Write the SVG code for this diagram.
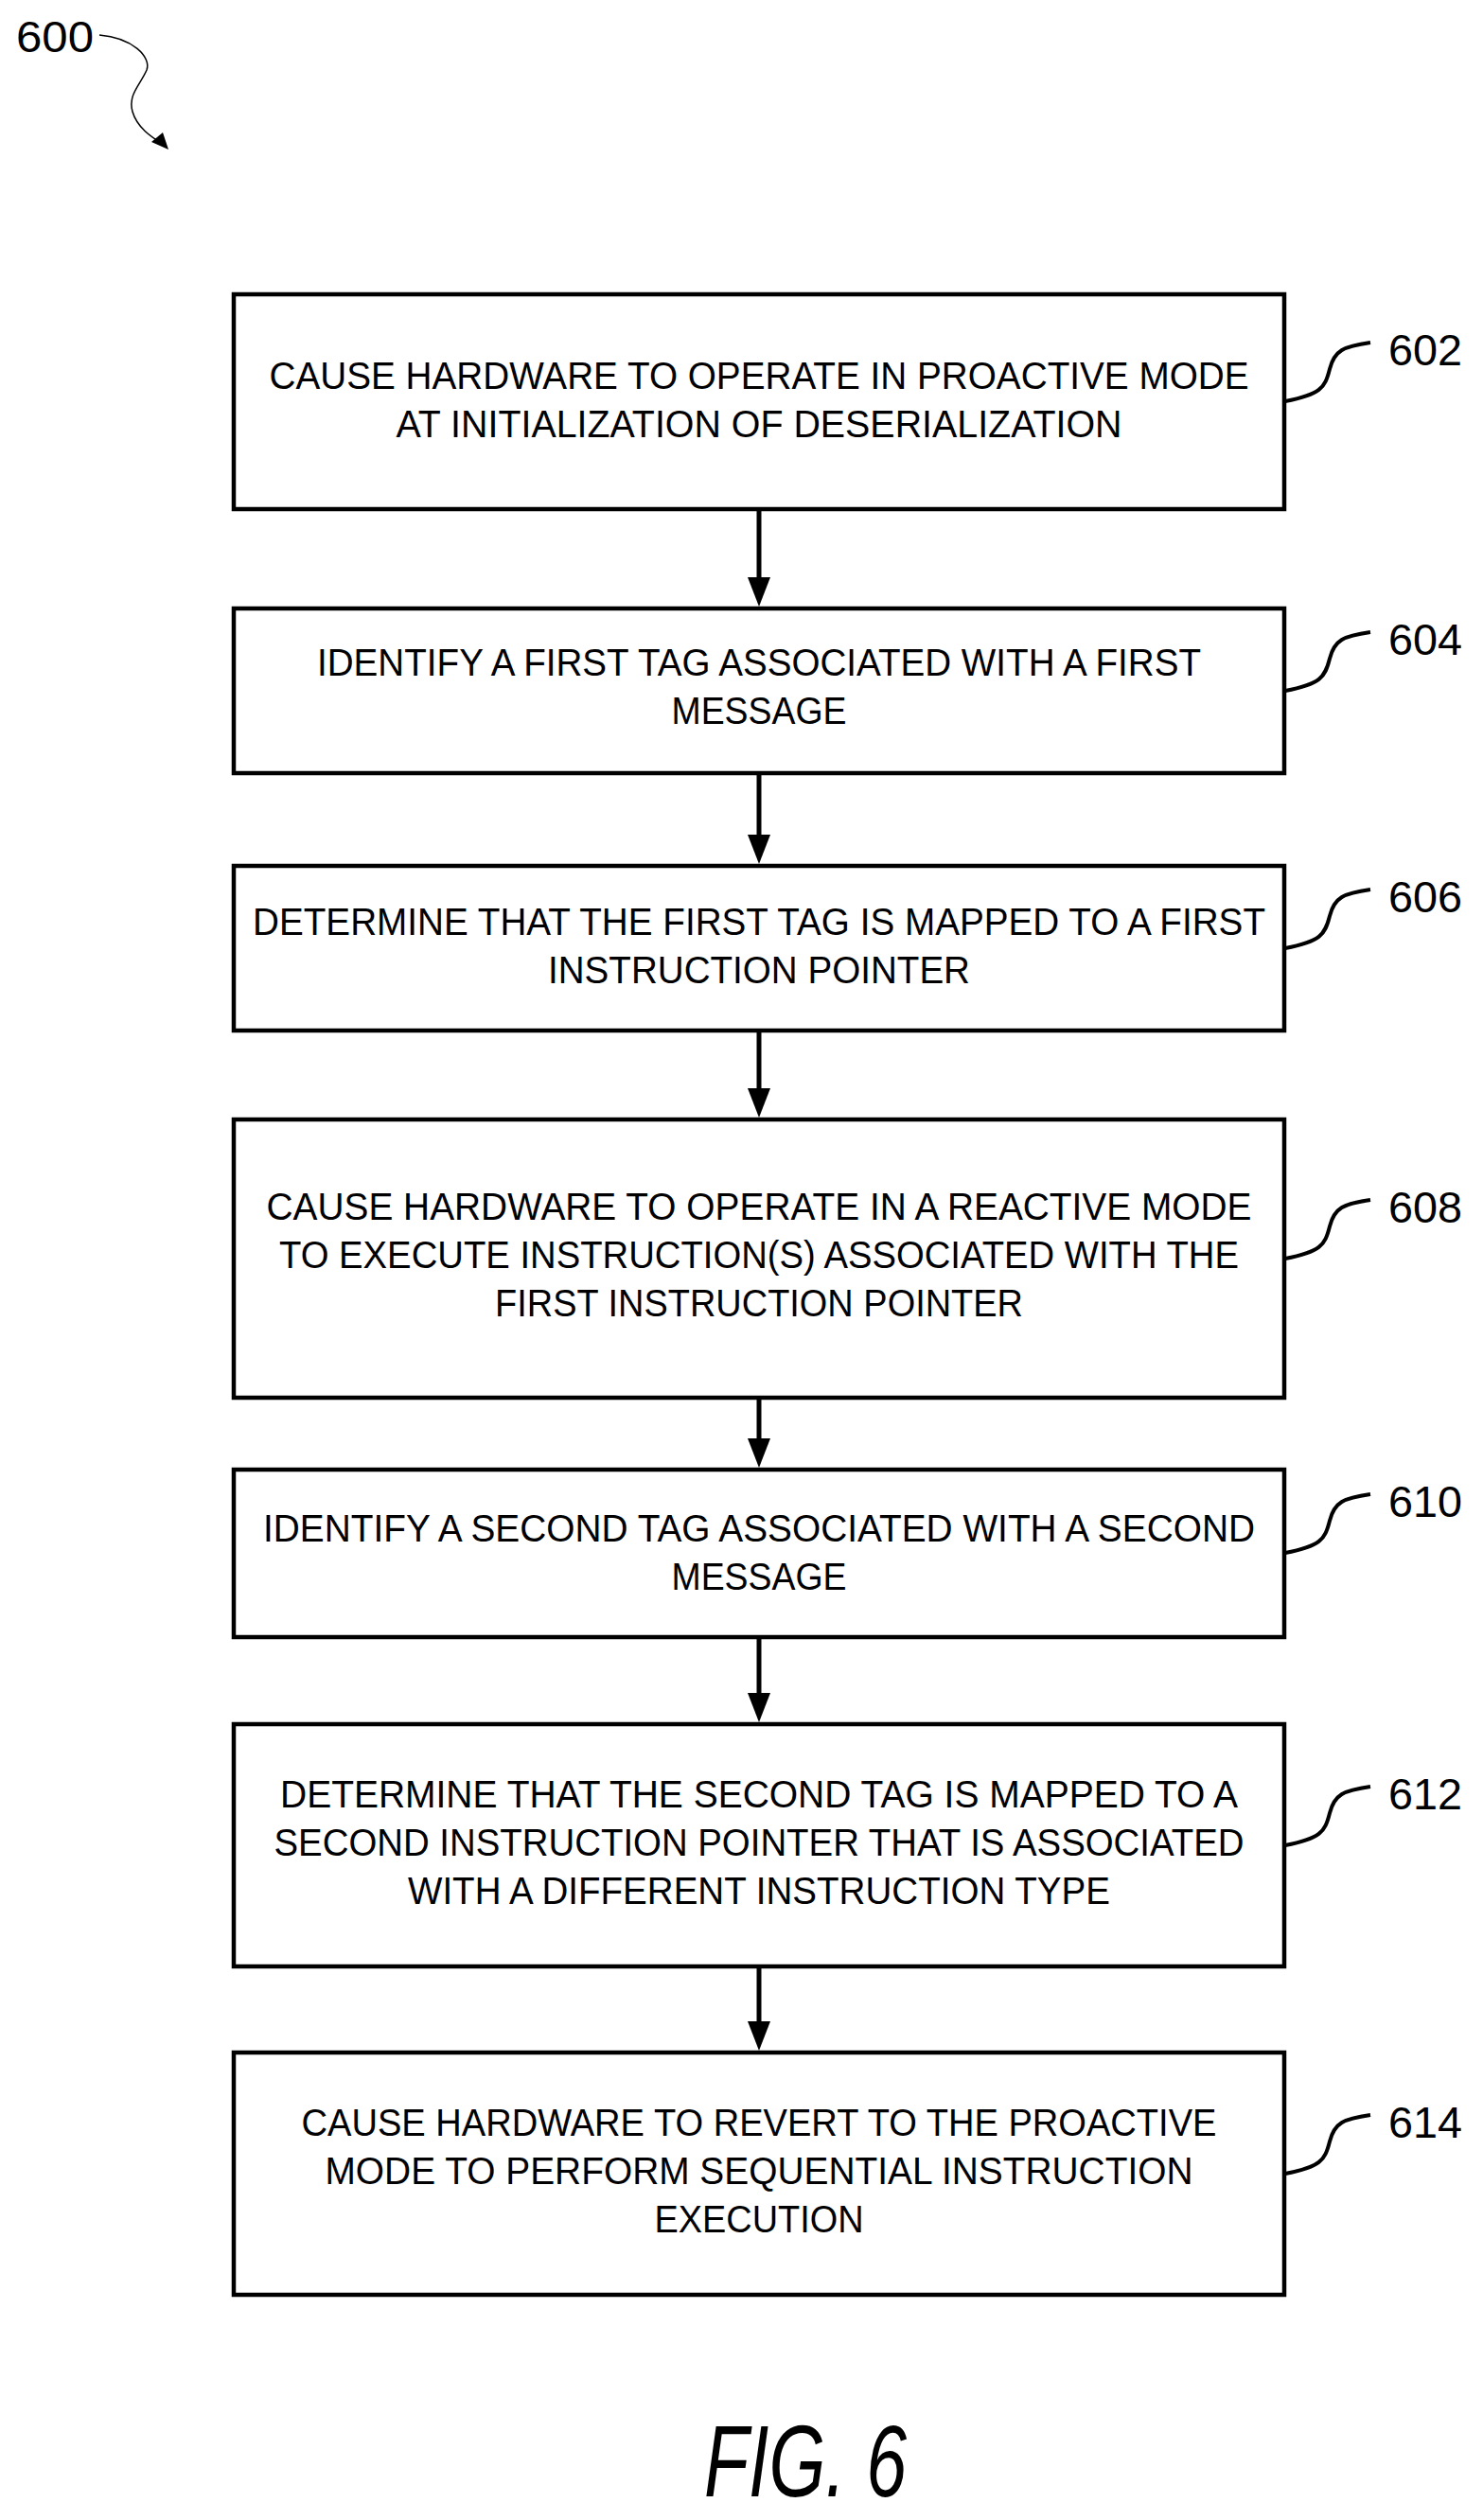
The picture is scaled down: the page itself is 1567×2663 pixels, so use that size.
<svg xmlns="http://www.w3.org/2000/svg" width="1567" height="2663" viewBox="0 0 1567 2663">
<style>
.box{fill:#fff;stroke:#000;stroke-width:4.5}
.t{font-family:"Liberation Sans",Arial,sans-serif;font-size:40px;fill:#000;text-anchor:middle}
.lb{font-family:"Liberation Sans",Arial,sans-serif;font-size:46px;fill:#000}
.ld{fill:none;stroke:#000;stroke-width:4}
.c{stroke:#000;stroke-width:5;fill:none}
.ah{fill:#000}
</style>
<rect width="1567" height="2663" fill="#fff"/>
<g id="ref600">
<text class="lb" x="17" y="55" textLength="82" lengthAdjust="spacingAndGlyphs">600</text>
<path d="M105,37 C140,40 160,60 155,74 C148,90 135,100 140,118 C145,135 160,145 172,152" fill="none" stroke="#000" stroke-width="1.5"/>
<path d="M178,158 L160,150 L172,140 Z" fill="#000"/>
</g>
<g id="connectors">
<line class="c" x1="802" y1="540" x2="802" y2="612"/><path class="ah" d="M790,610 L814,610 L802,641 Z"/>
<line class="c" x1="802" y1="819" x2="802" y2="884"/><path class="ah" d="M790,882 L814,882 L802,913 Z"/>
<line class="c" x1="802" y1="1091" x2="802" y2="1152"/><path class="ah" d="M790,1150 L814,1150 L802,1181 Z"/>
<line class="c" x1="802" y1="1479" x2="802" y2="1522"/><path class="ah" d="M790,1520 L814,1520 L802,1551 Z"/>
<line class="c" x1="802" y1="1732" x2="802" y2="1791"/><path class="ah" d="M790,1789 L814,1789 L802,1820 Z"/>
<line class="c" x1="802" y1="2080" x2="802" y2="2138"/><path class="ah" d="M790,2136 L814,2136 L802,2167 Z"/>
</g>
<g id="n602">
<rect class="box" x="247" y="311" width="1110" height="227"/>
<text class="t" x="802" y="411" textLength="1035" lengthAdjust="spacingAndGlyphs">CAUSE HARDWARE TO OPERATE IN PROACTIVE MODE</text>
<text class="t" x="802" y="462" textLength="767" lengthAdjust="spacingAndGlyphs">AT INITIALIZATION OF DESERIALIZATION</text>
<path class="ld" d="M1358,424 C1395,417 1400,410 1405,390 C1410,370 1420,366 1448,362"/>
<text class="lb" x="1467" y="386" textLength="78" lengthAdjust="spacingAndGlyphs">602</text>
</g>
<g id="n604">
<rect class="box" x="247" y="643" width="1110" height="174"/>
<text class="t" x="802" y="714" textLength="934" lengthAdjust="spacingAndGlyphs">IDENTIFY A FIRST TAG ASSOCIATED WITH A FIRST</text>
<text class="t" x="802" y="765" textLength="185" lengthAdjust="spacingAndGlyphs">MESSAGE</text>
<path class="ld" d="M1358,730 C1395,723 1400,716 1405,696 C1410,676 1420,672 1448,668"/>
<text class="lb" x="1467" y="692" textLength="78" lengthAdjust="spacingAndGlyphs">604</text>
</g>
<g id="n606">
<rect class="box" x="247" y="915" width="1110" height="174"/>
<text class="t" x="802" y="988" textLength="1070" lengthAdjust="spacingAndGlyphs">DETERMINE THAT THE FIRST TAG IS MAPPED TO A FIRST</text>
<text class="t" x="802" y="1039" textLength="446" lengthAdjust="spacingAndGlyphs">INSTRUCTION POINTER</text>
<path class="ld" d="M1358,1002 C1395,995 1400,988 1405,968 C1410,948 1420,944 1448,940"/>
<text class="lb" x="1467" y="964" textLength="78" lengthAdjust="spacingAndGlyphs">606</text>
</g>
<g id="n608">
<rect class="box" x="247" y="1183" width="1110" height="294"/>
<text class="t" x="802" y="1289" textLength="1041" lengthAdjust="spacingAndGlyphs">CAUSE HARDWARE TO OPERATE IN A REACTIVE MODE</text>
<text class="t" x="802" y="1340" textLength="1014" lengthAdjust="spacingAndGlyphs">TO EXECUTE INSTRUCTION(S) ASSOCIATED WITH THE</text>
<text class="t" x="802" y="1391" textLength="558" lengthAdjust="spacingAndGlyphs">FIRST INSTRUCTION POINTER</text>
<path class="ld" d="M1358,1330 C1395,1323 1400,1316 1405,1296 C1410,1276 1420,1272 1448,1268"/>
<text class="lb" x="1467" y="1292" textLength="78" lengthAdjust="spacingAndGlyphs">608</text>
</g>
<g id="n610">
<rect class="box" x="247" y="1553" width="1110" height="177"/>
<text class="t" x="802" y="1629" textLength="1048" lengthAdjust="spacingAndGlyphs">IDENTIFY A SECOND TAG ASSOCIATED WITH A SECOND</text>
<text class="t" x="802" y="1680" textLength="185" lengthAdjust="spacingAndGlyphs">MESSAGE</text>
<path class="ld" d="M1358,1641 C1395,1634 1400,1627 1405,1607 C1410,1587 1420,1583 1448,1579"/>
<text class="lb" x="1467" y="1603" textLength="78" lengthAdjust="spacingAndGlyphs">610</text>
</g>
<g id="n612">
<rect class="box" x="247" y="1822" width="1110" height="256"/>
<text class="t" x="802" y="1910" textLength="1012" lengthAdjust="spacingAndGlyphs">DETERMINE THAT THE SECOND TAG IS MAPPED TO A</text>
<text class="t" x="802" y="1961" textLength="1025" lengthAdjust="spacingAndGlyphs">SECOND INSTRUCTION POINTER THAT IS ASSOCIATED</text>
<text class="t" x="802" y="2012" textLength="742" lengthAdjust="spacingAndGlyphs">WITH A DIFFERENT INSTRUCTION TYPE</text>
<path class="ld" d="M1358,1950 C1395,1943 1400,1936 1405,1916 C1410,1896 1420,1892 1448,1888"/>
<text class="lb" x="1467" y="1912" textLength="78" lengthAdjust="spacingAndGlyphs">612</text>
</g>
<g id="n614">
<rect class="box" x="247" y="2169" width="1110" height="256"/>
<text class="t" x="802" y="2257" textLength="967" lengthAdjust="spacingAndGlyphs">CAUSE HARDWARE TO REVERT TO THE PROACTIVE</text>
<text class="t" x="802" y="2308" textLength="917" lengthAdjust="spacingAndGlyphs">MODE TO PERFORM SEQUENTIAL INSTRUCTION</text>
<text class="t" x="802" y="2359" textLength="221" lengthAdjust="spacingAndGlyphs">EXECUTION</text>
<path class="ld" d="M1358,2297 C1395,2290 1400,2283 1405,2263 C1410,2243 1420,2239 1448,2235"/>
<text class="lb" x="1467" y="2259" textLength="78" lengthAdjust="spacingAndGlyphs">614</text>
</g>
<text x="744" y="2638" font-family="Liberation Sans,Arial,sans-serif" font-style="italic" font-size="108" textLength="214" lengthAdjust="spacingAndGlyphs">FIG. 6</text>
</svg>
